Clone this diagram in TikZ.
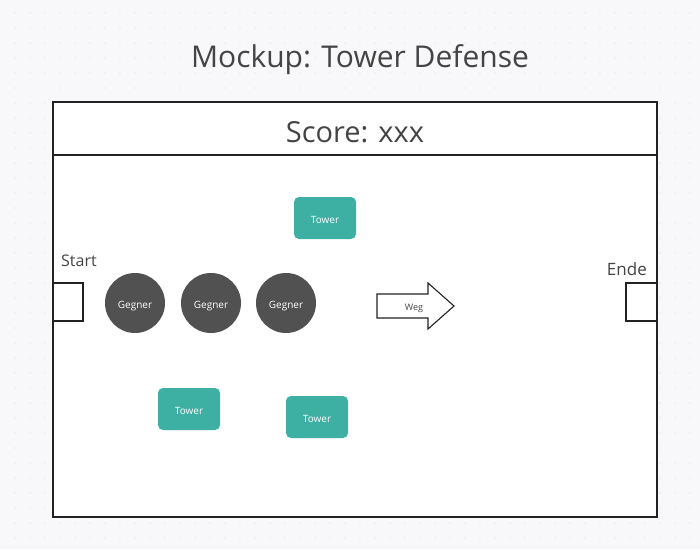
\documentclass[tikz,border=0pt]{standalone}
\usepackage{fontspec}
\setmainfont{Open Sans}
\definecolor{bgc}{HTML}{F8F8FA}
\definecolor{dotc}{HTML}{DADADF}
\definecolor{txt}{HTML}{444444}
\definecolor{gegc}{HTML}{515151}
\definecolor{towc}{HTML}{3DAFA3}
\definecolor{linec}{HTML}{222222}
\tikzset{
  gegner/.style={circle, fill=gegc, minimum size=60pt, inner sep=0pt, text=white, font=\fontsize{10}{11}\selectfont, text height=10.5pt, text depth=0pt},
  tower/.style={rounded corners=5pt, fill=towc, minimum width=62pt, minimum height=42pt, inner sep=0pt, text=white, font=\fontsize{10}{11}\selectfont, text height=10.5pt, text depth=0pt},
  frame/.style={draw=linec, line width=1.2pt},
  lbl/.style={text=txt, inner sep=0pt}
}
\begin{document}
\begin{tikzpicture}[x=1pt,y=-1pt]
\useasboundingbox (0,0) rectangle (700,549);
\fill[bgc] (0,0) rectangle (700,549);
\foreach \i in {15,30,...,690} {
  \foreach \j in {13,28,...,538} {
    \fill[dotc] (\i,\j) circle (0.7pt);
  }
}
% main frame
\draw[frame, fill=white] (53,102) rectangle (657,517);
\draw[frame] (53,155) -- (657,155);
\node[lbl, font=\fontsize{30}{34}\selectfont] (title) at (360,60) {Mockup: Tower Defense};
\node[lbl, font=\fontsize{29}{34}\selectfont] (score) at (355,132) {Score: xxx};
% start / end
\draw[frame] (53,283) rectangle (83,321);
\coordinate (startbox) at (68,302);
\node[lbl, font=\fontsize{16}{18}\selectfont, anchor=west] (start) at (61,261) {Start};
\draw[frame] (626,283) rectangle (657,321);
\coordinate (endebox) at (641,302);
\node[lbl, font=\fontsize{17}{19}\selectfont, anchor=east] (ende) at (647,269) {Ende};
% enemies
\node[gegner] (g1) at (135,303) {Gegner};
\node[gegner] (g2) at (211,303) {Gegner};
\node[gegner] (g3) at (286,303) {Gegner};
% towers
\node[tower] (t1) at (325,218) {Tower};
\node[tower] (t2) at (189,409) {Tower};
\node[tower] (t3) at (317,417) {Tower};
% arrow
\draw[draw=linec, line width=1.1pt, fill=white] (377,294) -- (428,294) -- (428,283) -- (454,306) -- (428,329) -- (428,318) -- (377,318) -- cycle;
\node[text=txt, font=\fontsize{9}{11}\selectfont, inner sep=0pt] (weg) at (414,308) {Weg};
\end{tikzpicture}
\end{document}
